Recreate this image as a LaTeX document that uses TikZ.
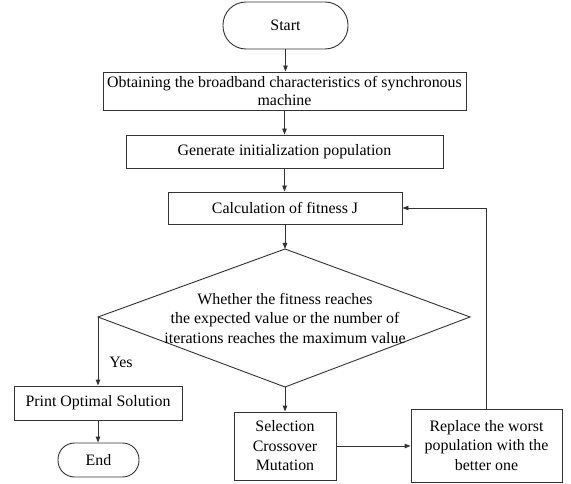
\documentclass[tikz,border=0pt]{standalone}
\usepackage{fontspec}
\setmainfont{Liberation Serif}
\usetikzlibrary{arrows.meta}
\begin{document}
\begin{tikzpicture}[x=1pt,y=-1pt,
  txt/.style={font=\fontsize{15.9}{19.5}\selectfont, align=center, inner sep=0pt},
  box/.style={txt, draw=black!80, line width=0.9pt, rectangle},
  ln/.style={draw=black!80, line width=0.9pt},
  arr/.style={ln, -{Triangle[length=6pt,width=4.5pt]}}]
\useasboundingbox (0,0) rectangle (571,484);
\node[box, minimum width=125pt, minimum height=47pt, rounded corners=23pt] (start) at (285.5,25.5) {Start};
\node[box, minimum width=363pt, minimum height=38pt, font=\fontsize{15.9}{18}\selectfont] (obtain) at (284.5,91) {Obtaining the broadband characteristics of synchronous\\machine};
\node[box, minimum width=317pt, minimum height=33pt] (gen) at (284.5,151.5) {Generate initialization population};
\node[box, minimum width=234pt, minimum height=32pt] (calc) at (285,208) {Calculation of fitness J};
\coordinate (dt) at (285,249);
\coordinate (dr) at (470,317);
\coordinate (db) at (285,387);
\coordinate (dl) at (98,317);
\draw[ln] (dt) -- (dr) -- (db) -- (dl) -- cycle;
\node[txt] (dtext) at (285,318) {Whether the fitness reaches\\the expected value or the number of\\iterations reaches the maximum value};
\node[txt] (yes) at (121,362) {Yes};
\node[box, minimum width=168pt, minimum height=34pt] (print) at (98,403) {Print Optimal Solution};
\node[box, minimum width=81pt, minimum height=34pt, rounded corners=16.5pt] (end) at (98.5,460) {End};
\node[box, minimum width=102pt, minimum height=68pt] (sel) at (285,446) {Selection\\Crossover\\Mutation};
\node[box, minimum width=151pt, minimum height=73pt] (rep) at (486.5,445.5) {Replace the worst\\population with the\\better one};
\draw[arr] (start.south) -- (start.south |- obtain.north);
\draw[arr] (obtain.south) -- (obtain.south |- gen.north);
\draw[arr] (gen.south) -- (gen.south |- calc.north);
\draw[arr] (calc.south) -- (dt);
\draw[arr] (dl) -- (dl |- print.north);
\draw[arr] (print.south) -- (print.south |- end.north);
\draw[arr] (db) -- (db |- sel.north);
\draw[arr] (sel.east) -- (sel.east -| rep.west);
\draw[arr] (rep.north) |- (calc.east);
\end{tikzpicture}
\end{document}
